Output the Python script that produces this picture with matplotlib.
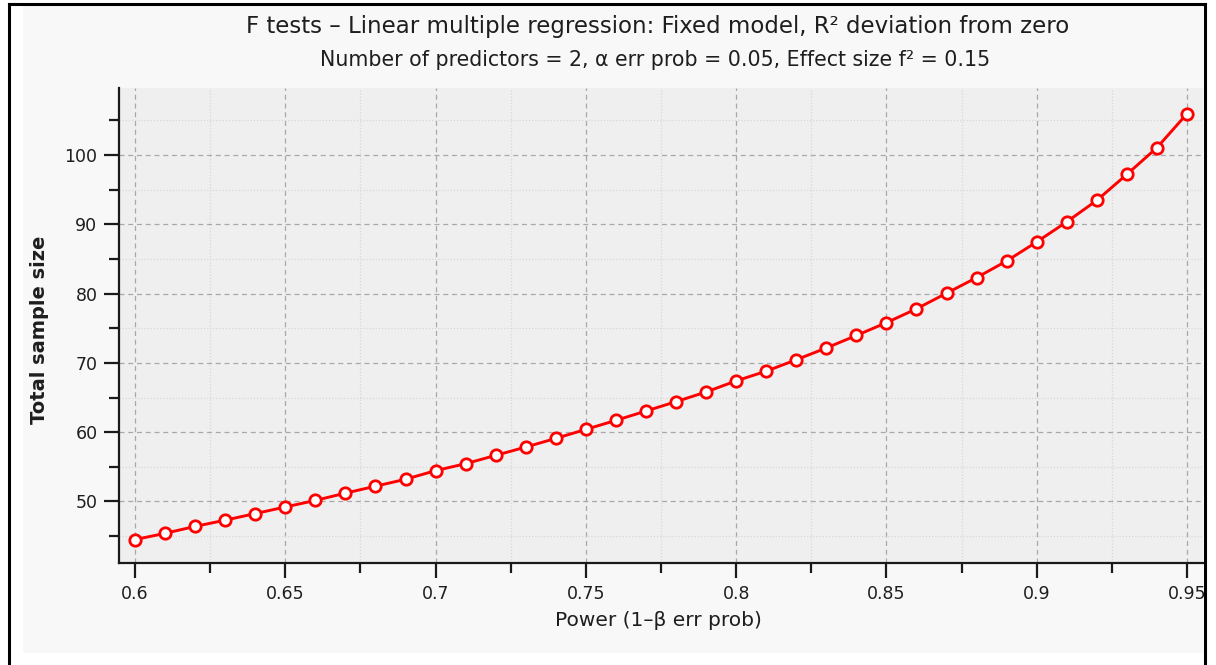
import matplotlib
matplotlib.use("Agg")
import matplotlib.pyplot as plt
from matplotlib.patches import Rectangle
from matplotlib.lines import Line2D
from matplotlib.ticker import MultipleLocator

# Power curve: total sample size needed at each power level
power = [0.60, 0.61, 0.62, 0.63, 0.64, 0.65, 0.66, 0.67, 0.68, 0.69,
         0.70, 0.71, 0.72, 0.73, 0.74, 0.75, 0.76, 0.77, 0.78, 0.79,
         0.80, 0.81, 0.82, 0.83, 0.84, 0.85, 0.86, 0.87, 0.88, 0.89,
         0.90, 0.91, 0.92, 0.93, 0.94, 0.95]
sample_size = [44.5, 45.4, 46.4, 47.3, 48.25, 49.2, 50.15, 51.2, 52.2, 53.2,
               54.45, 55.45, 56.65, 57.85, 59.1, 60.4, 61.7, 63.05, 64.4, 65.8,
               67.4, 68.8, 70.45, 72.15, 73.95, 75.8, 77.8, 80.05, 82.3, 84.7,
               87.45, 90.35, 93.45, 97.2, 101.05, 105.95]

title = "F tests \u2013 Linear multiple regression: Fixed model, R\u00b2 deviation from zero"
subtitle = "Number of predictors = 2, \u03b1 err prob = 0.05, Effect size f\u00b2 = 0.15"
xlabel = "Power (1\u2013\u03b2 err prob)"
ylabel = "Total sample size"

W, H = 1216, 665
text_col = "#1e1e1e"
plt.rcParams['font.family'] = ['DejaVu Sans']

fig = plt.figure(figsize=(W / 100, H / 100), dpi=100)
fig.patch.set_facecolor("white")

def fx(px):
    return px / W

def fy(py):
    return 1 - py / H

# light panel behind the chart
fig.patches.append(Rectangle((fx(23), fy(653)), fx(1203) - fx(23), fy(6) - fy(653),
                             transform=fig.transFigure, facecolor="#f8f8f8",
                             edgecolor="none", zorder=-10))
# window frame (left, top, right)
for xs, ys in [((8.5, 8.5), (4, H)), ((8.5, 1205), (4, 4)), ((1205, 1205), (4, H))]:
    fig.lines.append(Line2D([fx(x) for x in xs], [fy(y) for y in ys],
                            transform=fig.transFigure, color="black", lw=2.2, zorder=5))

ax = fig.add_axes([fx(119), fy(563), fx(1203) - fx(119), fy(88) - fy(563)])
ax.set_facecolor("#efefef")
ax.set_xlim(0.59468, 0.95532)
ax.set_ylim(41.12, 109.66)

for s in ["top", "right"]:
    ax.spines[s].set_visible(False)
for s in ["left", "bottom"]:
    ax.spines[s].set_linewidth(1.6)
    ax.spines[s].set_color("#1a1a1a")

ax.xaxis.set_major_locator(MultipleLocator(0.05))
ax.xaxis.set_minor_locator(MultipleLocator(0.025))
ax.yaxis.set_major_locator(MultipleLocator(10))
ax.yaxis.set_minor_locator(MultipleLocator(5))
ax.xaxis.set_major_formatter(plt.FuncFormatter(lambda v, p: f"{v:.2f}".rstrip("0")))

ax.tick_params(which="major", direction="out", length=10.5, width=1.6,
               color="#1a1a1a", labelsize=12.5, labelcolor=text_col, pad=5)
ax.tick_params(which="minor", direction="out", length=7, width=1.6, color="#1a1a1a")

ax.grid(which="major", color="#a8a8a8", linestyle=(0, (4, 3)), linewidth=0.9)
ax.grid(which="minor", color="#d8d8d8", linestyle=(0, (1, 1.5)), linewidth=0.9)
ax.set_axisbelow(True)

ax.plot(power, sample_size, color="#ff0000", lw=2.1, marker="o", ms=8.2,
        mfc="white", mec="#ff0000", mew=2.0, zorder=3, clip_on=False)

fig.text(fx(658), fy(27), title, ha="center", va="center", fontsize=16.5, color=text_col)
fig.text(fx(655), fy(60), subtitle, ha="center", va="center", fontsize=14.8, color=text_col)
fig.text(fx(658), fy(621), xlabel, ha="center", va="center", fontsize=14.5, color=text_col)
fig.text(fx(40), fy(330), ylabel, ha="center", va="center", rotation=90,
         fontsize=14, fontweight="bold", color=text_col)

fig.savefig("out.png", dpi=100)
